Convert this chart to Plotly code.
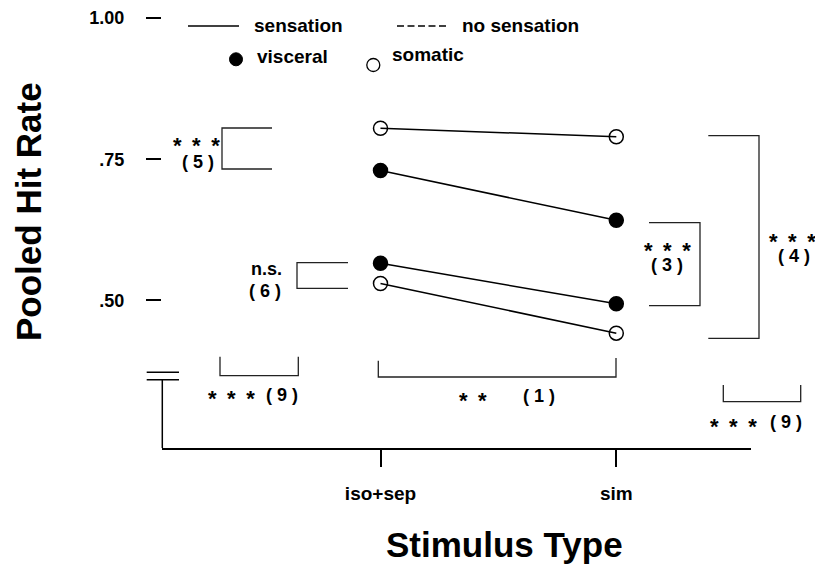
import plotly.graph_objects as go

# ---------------- data ----------------
categories = ["iso+sep", "sim"]
somatic_upper = [0.805, 0.790]
visceral_upper = [0.730, 0.642]
visceral_lower = [0.566, 0.494]
somatic_lower = [0.530, 0.442]
y_tickvals = [0.50, 0.75, 1.00]
y_ticktext = [".50", ".75", "1.00"]

# ---------------- geometry helpers (pixel -> paper) ----------------
W, H = 815, 564
L, R, T, B = 162, 64, 0, 116
PW, PH = W - L - R, H - T - B


def px(x):
    return (x - L) / PW


def py(y):
    return (H - B - y) / PH


FONT = "Liberation Sans, Arial, Helvetica, sans-serif"

fig = go.Figure()

series = [
    (somatic_upper, "circle-open"),
    (visceral_upper, "circle"),
    (visceral_lower, "circle"),
    (somatic_lower, "circle-open"),
]
for vals, sym in series:
    fig.add_trace(go.Scatter(
        x=categories, y=vals, mode="lines+markers",
        line=dict(color="black", width=1.5),
        marker=dict(symbol=sym, size=14, color="black",
                    line=dict(color="black", width=1.5)),
        cliponaxis=False, hoverinfo="skip",
    ))

shapes = []


def path(points, width=1.3, color="#222", dash="solid"):
    d = "M " + " L ".join(f"{px(x):.5f},{py(y):.5f}" for x, y in points)
    shapes.append(dict(type="path", path=d, xref="paper", yref="paper",
                       line=dict(color=color, width=width, dash=dash)))


# brackets
path([(272, 128), (222, 128), (222, 169), (272, 169)])
path([(348, 262.7), (297, 262.7), (297, 288.3), (348, 288.3)])
path([(220, 356.7), (220, 375.7), (298.3, 375.7), (298.3, 356.7)])
path([(378.3, 360.7), (378.3, 377), (616, 377), (616, 358)])
path([(649, 222.7), (700, 222.7), (700, 305.7), (649, 305.7)])
path([(708.3, 135.7), (759, 135.7), (759, 338.3), (708.3, 338.3)])
path([(723.3, 385), (723.3, 401.7), (800.7, 401.7), (800.7, 385)])
# broken axis
path([(146.7, 372.3), (179, 372.3)], width=1.5, color="black")
path([(146.7, 379.7), (179, 379.7)], width=1.5, color="black")
path([(162.3, 379.7), (162.3, 448)], width=1.5, color="black")
# legend lines
path([(188, 26), (239, 26)], width=1.3, color="black")
path([(397, 26), (448, 26)], width=1.3, color="black", dash="7px,3.5px")
# legend markers
r = 6.5
shapes.append(dict(type="circle", xref="paper", yref="paper",
                   x0=px(236 - r), x1=px(236 + r), y0=py(59.3 + r), y1=py(59.3 - r),
                   fillcolor="black", line=dict(color="black", width=1)))
shapes.append(dict(type="circle", xref="paper", yref="paper",
                   x0=px(373.3 - r), x1=px(373.3 + r), y0=py(65 + r), y1=py(65 - r),
                   fillcolor="rgba(0,0,0,0)", line=dict(color="black", width=1.3)))

annotations = []
STAR_SIZE = 22
STAR_SHIFT = 5


def ann(text, x, y, size=18, xanchor="center", angle=0):
    annotations.append(dict(
        text=text, x=px(x), y=py(y), xref="paper", yref="paper",
        xanchor=xanchor, yanchor="middle", showarrow=False, textangle=angle,
        font=dict(family=FONT, size=size, color="black", weight="bold"),
    ))


def stars(n, x, y):
    gap = "\u00a0\u2009"
    ann(gap.join(["*"] * n), x, y + STAR_SHIFT, size=STAR_SIZE)


# titles
ann("Pooled Hit Rate", 28, 212, size=35, angle=-90)
ann("Stimulus Type", 504, 544, size=35)

# legend text
ann("sensation", 252, 25.7, size=19, xanchor="left")
ann("no sensation", 460, 25.7, size=19, xanchor="left")
ann("visceral", 255, 56.6, size=19, xanchor="left")
ann("somatic", 390, 55, size=19, xanchor="left")

# bracket labels
stars(3, 196, 140)
ann("( 5 )", 197.5, 162)
ann("n.s.", 266, 269)
ann("( 6 )", 264.5, 290.7)
stars(3, 231, 393)
ann("( 9 )", 282, 395)
stars(2, 472.5, 395.7)
ann("( 1 )", 539, 395.7)
stars(3, 667, 245)
ann("( 3 )", 667, 265)
stars(3, 792, 236.7)
ann("( 4 )", 793.5, 256)
stars(3, 733, 421.7)
ann("( 9 )", 785.5, 421.7)

# axis ranges from pixel calibration
x_per = 616.3 - 380.5
x_lo = 0 - (380.5 - L) / x_per
x_hi = 1 + (L + PW - 616.3) / x_per
y_per = 564.6
y_hi = 0.75 + (159.3 - T) / y_per
y_lo = 0.75 - (H - B - 159.3) / y_per

fig.update_layout(
    width=W, height=H,
    margin=dict(l=L, r=R, t=T, b=B, pad=0),
    paper_bgcolor="white", plot_bgcolor="white",
    showlegend=False,
    shapes=shapes, annotations=annotations,
    xaxis=dict(
        type="category", range=[x_lo, x_hi],
        showgrid=False, zeroline=False,
        showline=True, linecolor="black", linewidth=1.5,
        ticks="outside", ticklen=17, tickwidth=1.5, tickcolor="black",
        ticklabelstandoff=10,
        tickfont=dict(family=FONT, size=19, color="black", weight="bold"),
    ),
    yaxis=dict(
        range=[y_lo, y_hi],
        showgrid=False, zeroline=False, showline=False,
        tickvals=y_tickvals, ticktext=y_ticktext,
        ticks="outside", ticklen=15, tickwidth=1.5, tickcolor="black",
        ticklabelstandoff=18,
        tickfont=dict(family=FONT, size=18, color="black", weight="bold"),
    ),
)

fig.write_html("out.html")
